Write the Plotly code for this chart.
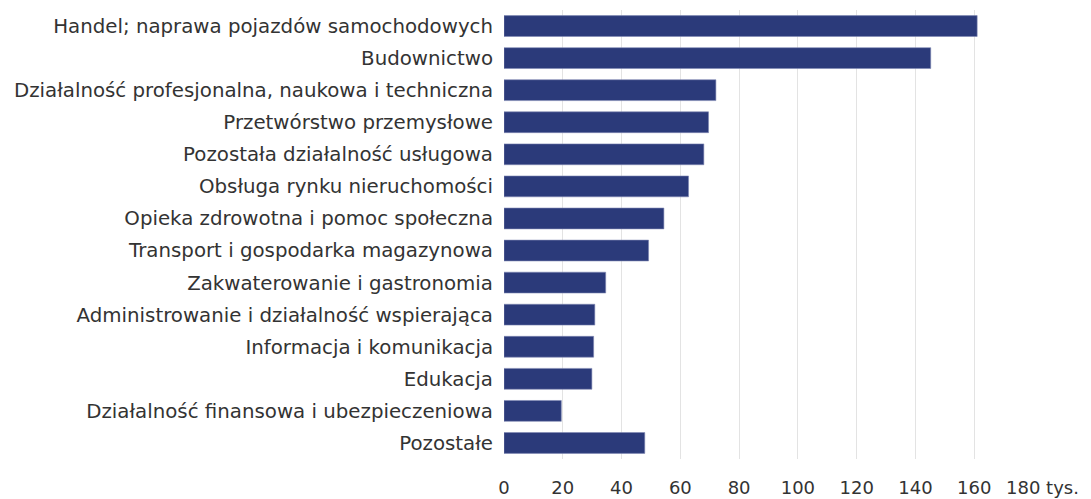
import plotly.graph_objects as go

categories = [
    "Handel; naprawa pojazdów samochodowych",
    "Budownictwo",
    "Działalność profesjonalna, naukowa i techniczna",
    "Przetwórstwo przemysłowe",
    "Pozostała działalność usługowa",
    "Obsługa rynku nieruchomości",
    "Opieka zdrowotna i pomoc społeczna",
    "Transport i gospodarka magazynowa",
    "Zakwaterowanie i gastronomia",
    "Administrowanie i działalność wspierająca",
    "Informacja i komunikacja",
    "Edukacja",
    "Działalność finansowa i ubezpieczeniowa",
    "Pozostałe",
]
values = [161.0, 145.2, 72.1, 69.6, 68.0, 62.8, 54.4, 49.2, 34.6, 30.9, 30.5, 29.9, 19.5, 47.9]
tick_vals = [0, 20, 40, 60, 80, 100, 120, 140, 160, 180]
tick_text = ["0", "20", "40", "60", "80", "100", "120", "140", "160", ""]
last_tick_label = "180 tys."

FONT = "DejaVu Sans"
TEXT = "#333333"
FS_Y = 19.8
FS_X = 18

fig = go.Figure(
    go.Bar(
        x=values,
        y=categories,
        orientation="h",
        marker=dict(color="#2b3a7a", line=dict(color="#7f88b3", width=0.6)),
        hoverinfo="x+y",
    )
)

fig.update_layout(
    width=1091,
    height=499,
    margin=dict(l=504, r=58, t=10, b=40, autoexpand=False),
    paper_bgcolor="white",
    plot_bgcolor="white",
    bargap=0.35,
    showlegend=False,
    font=dict(family=FONT, size=FS_Y, color=TEXT),
)

fig.update_xaxes(
    range=[0, 180],
    tickvals=tick_vals,
    ticktext=tick_text,
    showgrid=True,
    gridcolor="#e3e3e3",
    gridwidth=1,
    zeroline=False,
    showline=False,
    ticks="",
    automargin=False,
    ticklabelstandoff=16,
    tickfont=dict(family=FONT, size=FS_X, color=TEXT),
    fixedrange=True,
)

fig.update_yaxes(
    categoryorder="array",
    categoryarray=categories[::-1],
    showgrid=False,
    zeroline=False,
    showline=False,
    ticks="",
    automargin=False,
    ticklabelstandoff=10,
    tickfont=dict(family=FONT, size=FS_Y, color=TEXT),
    fixedrange=True,
)

fig.add_annotation(
    x=180,
    y=0,
    xref="x",
    yref="paper",
    text=last_tick_label,
    showarrow=False,
    xanchor="center",
    yanchor="middle",
    xshift=9,
    yshift=-28,
    font=dict(family=FONT, size=FS_X, color=TEXT),
)

fig.write_html(
    "out.html",
    config={"displayModeBar": False},
    post_script="document.body.style.margin='0px';",
)
